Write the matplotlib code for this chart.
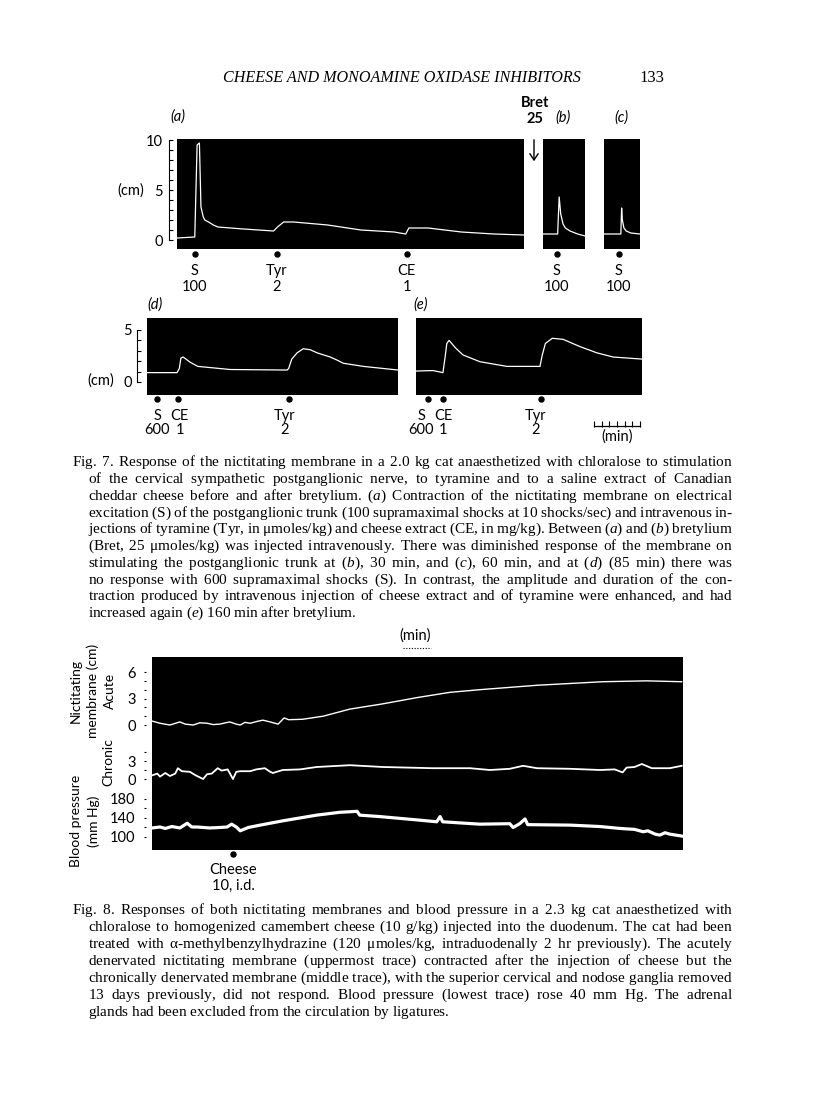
import matplotlib
matplotlib.use("Agg")
import matplotlib.pyplot as plt
from matplotlib.transforms import blended_transform_factory, ScaledTranslation
from matplotlib.lines import Line2D
from matplotlib.patches import FancyArrowPatch

# ---------------- data ----------------
# Fig. 7 (a) nictitating membrane contraction (cm) vs time (min)
a_t = [0.0, 2.3, 2.6, 2.9, 3.1, 3.4, 3.6, 4.3, 4.7, 5.3, 8.6, 12.5, 13.0, 13.8, 15.1,
       19.5, 23.8, 28.1, 29.6, 30.0, 32.5, 36.8, 41.0, 44.9]
a_v = [0.2, 0.3, 9.5, 9.7, 3.3, 2.3, 2.0, 1.7, 1.5, 1.3, 1.1, 0.9, 1.3, 1.8, 1.8,
       1.5, 1.0, 0.8, 0.6, 1.2, 1.2, 0.8, 0.6, 0.5]
a_ev_t = [2.3, 12.9, 29.7]
a_ev_lab = [("S", "100"), ("Tyr", "2"), ("CE", "1")]

b_t = [0.0, 1.9, 2.0, 2.1, 2.3, 2.6, 2.9, 3.5, 4.5, 5.45]
b_v = [0.6, 0.6, 2.5, 4.3, 2.6, 1.6, 1.2, 0.9, 0.6, 0.4]
b_ev_t = [1.8]
b_ev_lab = [("S", "100")]

c_t = [0.0, 2.2, 2.3, 2.4, 2.6, 2.9, 3.5, 4.7]
c_v = [0.6, 0.6, 3.2, 2.0, 1.2, 0.9, 0.7, 0.6]
c_ev_t = [1.95]
c_ev_lab = [("S", "100")]

d_t = [0.0, 3.9, 4.2, 4.4, 4.7, 5.6, 6.6, 10.8, 18.2, 18.4, 18.8, 19.5, 20.3, 21.2,
       22.1, 23.8, 24.7, 25.5, 28.1, 32.6]
d_v = [0.9, 0.9, 1.3, 2.3, 2.4, 1.9, 1.5, 1.2, 1.15, 1.3, 2.2, 2.8, 3.2, 3.1,
       2.8, 2.4, 2.1, 1.8, 1.5, 1.15]
d_ev_t = [1.3, 4.0, 18.4]
d_ev_lab = [("S", "600"), ("CE", "1"), ("Tyr", "2")]

e_t = [0.0, 2.2, 3.5, 3.8, 4.0, 4.3, 5.1, 6.1, 8.3, 11.8, 16.1, 16.4, 16.8, 17.7,
       19.1, 21.3, 23.5, 25.6, 29.35]
e_v = [1.05, 1.1, 0.9, 2.5, 3.7, 4.0, 3.3, 2.6, 1.95, 1.5, 1.5, 2.6, 3.7, 4.2,
       4.1, 3.4, 2.8, 2.4, 2.2]
e_ev_t = [1.56, 3.5, 16.2]
e_ev_lab = [("S", "600"), ("CE", "1"), ("Tyr", "2")]

# Fig. 8 traces vs time (min)
acute_t = [0.0, 1.2, 2.7, 4.2, 5.0, 6.2, 7.2, 8.3, 9.2, 10.2, 11.7, 12.7, 13.3, 14.0,
           14.8, 15.8, 16.7, 17.8, 19.0, 19.9, 20.6, 22.7, 25.8, 29.8, 34.8, 39.9,
           44.9, 49.4, 58.0, 67.9, 74.5, 79.8]
acute_v = [0.45, 0.2, 0.0, 0.35, 0.1, 0.0, 0.25, 0.2, 0.05, 0.1, 0.35, 0.1, 0.0, 0.3,
           0.2, 0.4, 0.55, 0.35, 0.1, 0.8, 0.6, 0.65, 1.0, 1.8, 2.4, 3.1,
           3.7, 4.0, 4.5, 4.9, 5.0, 4.9]
chronic_t = [0.0, 0.8, 1.2, 2.0, 2.7, 3.5, 3.9, 4.5, 5.7, 6.6, 7.7, 8.3, 9.0, 9.9, 10.5,
             11.4, 12.2, 12.7, 13.3, 14.8, 15.7, 17.0, 17.8, 18.2, 19.7, 22.3, 24.8,
             29.8, 34.8, 42.3, 47.9, 50.9, 53.9, 55.9, 58.0, 63.0, 67.5, 69.7, 70.9,
             71.5, 72.7, 73.8, 75.3, 78.0, 79.8]
chronic_v = [0.6, 0.9, 0.4, 1.0, 0.5, 0.9, 1.8, 1.3, 1.2, 0.6, 0.0, 0.8, 0.9, 1.8, 1.4,
             1.6, 0.0, 1.2, 1.3, 1.3, 1.6, 1.8, 1.2, 1.0, 1.5, 1.6, 2.0,
             2.3, 2.0, 1.8, 1.8, 1.5, 1.7, 2.2, 1.8, 1.7, 1.5, 1.6, 1.1,
             1.9, 2.0, 2.5, 1.8, 1.8, 2.2]
bp_t = [0.0, 1.2, 2.0, 3.0, 4.2, 5.3, 6.0, 6.8, 8.7, 10.2, 11.3, 12.0, 12.7, 13.3, 14.5,
        16.3, 19.7, 24.8, 28.3, 30.9, 31.3, 34.3, 39.9, 42.9, 43.4, 43.8, 49.4, 53.9,
        54.4, 55.4, 56.2, 56.6, 63.0, 67.5, 70.5, 72.7, 74.0, 74.7, 75.8, 76.5, 77.3,
        78.0, 79.8]
bp_v = [119, 121, 118, 122, 119, 129, 121, 121, 119, 120, 121, 127, 121, 113, 120,
        125, 134, 146, 152, 154, 146, 143, 136, 132, 143, 132, 127, 128,
        120, 128, 138, 126, 125, 122, 118, 116, 111, 113, 106, 104, 109,
        106, 102]
cheese_t = 12.2

title = "CHEESE AND MONOAMINE OXIDASE INHIBITORS"
page_no = "133"

cap7 = [
    "Fig. 7. Response of the nictitating membrane in a 2.0 kg cat anaesthetized with chloralose to stimulation",
    "of the cervical sympathetic postganglionic nerve, to tyramine and to a saline extract of Canadian",
    "cheddar cheese before and after bretylium. (_a_) Contraction of the nictitating membrane on electrical",
    "excitation (S) of the postganglionic trunk (100 supramaximal shocks at 10 shocks/sec) and intravenous in-",
    "jections of tyramine (Tyr, in \u03bcmoles/kg) and cheese extract (CE, in mg/kg). Between (_a_) and (_b_) bretylium",
    "(Bret, 25 \u03bcmoles/kg) was injected intravenously. There was diminished response of the membrane on",
    "stimulating the postganglionic trunk at (_b_), 30 min, and (_c_), 60 min, and at (_d_) (85 min) there was",
    "no response with 600 supramaximal shocks (S). In contrast, the amplitude and duration of the con-",
    "traction produced by intravenous injection of cheese extract and of tyramine were enhanced, and had",
    "increased again (_e_) 160 min after bretylium.",
]
cap8 = [
    "Fig. 8. Responses of both nictitating membranes and blood pressure in a 2.3 kg cat anaesthetized with",
    "chloralose to homogenized camembert cheese (10 g/kg) injected into the duodenum. The cat had been",
    "treated with \u03b1-methylbenzylhydrazine (120 \u03bcmoles/kg, intraduodenally 2 hr previously). The acutely",
    "denervated nictitating membrane (uppermost trace) contracted after the injection of cheese but the",
    "chronically denervated membrane (middle trace), with the superior cervical and nodose ganglia removed",
    "13 days previously, did not respond. Blood pressure (lowest trace) rose 40 mm Hg. The adrenal",
    "glands had been excluded from the circulation by ligatures.",
]

# ---------------- layout helpers ----------------
plt.rcParams["mathtext.fontset"] = "custom"
plt.rcParams["mathtext.rm"] = "Liberation Serif"
plt.rcParams["mathtext.it"] = "Liberation Serif:italic"
plt.rcParams["mathtext.bf"] = "Liberation Serif:bold"

W, H = 816, 1117
fig = plt.figure(figsize=(W / 100, H / 100), dpi=100)
fig.patch.set_facecolor("white")
SANS = ["Lato", "DejaVu Sans"]
SERIF = ["Liberation Serif", "DejaVu Serif"]
PT = 72 / 100.0  # points per pixel
LAB = 10.5


def fx(x):
    return x / W


def fy(y):
    return 1 - y / H


def panel(x0, y0, x1, y1, xlim, ylim, face="black"):
    ax = fig.add_axes([fx(x0), fy(y1), (x1 - x0) / W, (y1 - y0) / H])
    ax.set_facecolor(face)
    for s in ax.spines.values():
        s.set_visible(False)
    ax.set_xticks([])
    ax.set_yticks([])
    ax.set_xlim(*xlim)
    ax.set_ylim(*ylim)
    return ax


def below(ax, dy_px, dx_px=0):
    return blended_transform_factory(ax.transData, ax.transAxes) + \
        ScaledTranslation(dx_px / 100.0, -dy_px / 100.0, fig.dpi_scale_trans)


def events(ax, ts, labs, dot_dy, lab_dy, ls, dxs=None, size=LAB):
    dxs = dxs or [0] * len(ts)
    for t, (l1, l2), dx in zip(ts, labs, dxs):
        ax.plot([t], [0], "o", color="black", ms=3.6, clip_on=False,
                transform=below(ax, dot_dy))
        ax.text(t, 0, l1 + "\n" + l2, transform=below(ax, lab_dy, dx), ha="center",
                va="center", multialignment="center", linespacing=ls,
                fontsize=size, family=SANS)


def yaxis(ax, ticks, labels, outward_px, length_px, pad_px, spine=True, bounds=None):
    sp = ax.spines["left"]
    sp.set_visible(True)
    sp.set_position(("outward", outward_px * PT))
    sp.set_color("black" if spine else "none")
    sp.set_linewidth(0.8)
    if bounds:
        sp.set_bounds(*bounds)
    ax.set_yticks(ticks)
    ax.set_yticklabels(labels, family=SANS, fontsize=LAB)
    ax.tick_params(axis="y", direction="in" if spine else "out",
                   length=length_px * PT, width=0.8, pad=pad_px * PT, colors="black")


# ---------------- header ----------------
fig.text(fx(402), fy(82), title, family=SERIF, style="italic", fontsize=11.6,
         ha="center", va="baseline")
fig.text(fx(652), fy(82), page_no, family=SERIF, fontsize=12, ha="center", va="baseline")

# ---------------- Fig. 7 a, b, c ----------------
ylim_abc = (-0.9, 10.1)
ax_a = panel(177, 139, 524, 249, (0, 44.9), ylim_abc)
ax_a.plot(a_t, a_v, color="white", lw=0.9)
yaxis(ax_a, list(range(0, 11)), ["0", "", "", "", "", "5", "", "", "", "", "10"],
      outward_px=8, length_px=4, pad_px=6, bounds=(0, 10))
events(ax_a, a_ev_t, a_ev_lab, 5, 30, 1.1)

ax_b = panel(543, 139, 585, 249, (0, 5.45), ylim_abc)
ax_b.plot(b_t, b_v, color="white", lw=0.9)
events(ax_b, b_ev_t, b_ev_lab, 5, 30, 1.1)

ax_c = panel(604, 139, 640, 249, (0, 4.7), ylim_abc)
ax_c.plot(c_t, c_v, color="white", lw=0.9)
events(ax_c, c_ev_t, c_ev_lab, 5, 30, 1.1)

for x, y, s in [(178, 117, "(a)"), (563, 118, "(b)"), (621, 118, "(c)"),
                (155, 305, "(d)"), (421, 305, "(e)")]:
    fig.text(fx(x), fy(y), s, family=SANS, style="italic", fontsize=LAB,
             ha="center", va="center")
fig.text(fx(535), fy(111), "Bret\n25", family=SANS, weight="bold", fontsize=LAB,
         ha="center", va="center", multialignment="center", linespacing=1.2)
fig.text(fx(131), fy(191), "(cm)", family=SANS, fontsize=LAB, ha="center", va="center")
fig.add_artist(FancyArrowPatch(
    (fx(534), fy(137)), (fx(534), fy(164)), transform=fig.transFigure,
    arrowstyle="->,head_length=3,head_width=2", color="black", lw=1.0,
    mutation_scale=1.5))

# ---------------- Fig. 7 d, e ----------------
ylim_de = (-1.25, 6.15)
ax_d = panel(147, 318, 398, 395, (0, 32.6), ylim_de)
ax_d.plot(d_t, d_v, color="white", lw=0.9)
yaxis(ax_d, list(range(0, 6)), ["0", "", "", "", "", "5"],
      outward_px=10, length_px=4, pad_px=5, bounds=(0, 5))
events(ax_d, d_ev_t, d_ev_lab, 4, 28, 1.0, dxs=[0, 2, -4])

ax_e = panel(416, 318, 642, 395, (0, 29.35), ylim_de)
ax_e.plot(e_t, e_v, color="white", lw=0.9)
events(ax_e, e_ev_t, e_ev_lab, 4, 28, 1.0, dxs=[-7, 0, -5])

fig.text(fx(101), fy(381), "(cm)", family=SANS, fontsize=LAB, ha="center", va="center")

# time scale bar (1 min divisions) under panel e
sb0, sb1 = 23.1, 29.1
ax_e.plot([sb0, sb1], [0, 0], color="black", lw=0.9, clip_on=False, transform=below(ax_e, 31))
for k in range(7):
    ax_e.plot([sb0 + k], [0], marker="|", ms=4, mew=0.8, color="black",
              clip_on=False, transform=below(ax_e, 29))
ax_e.text((sb0 + sb1) / 2, 0, "(min)", transform=below(ax_e, 42), ha="center", va="center",
          fontsize=LAB, family=SANS)


# ---------------- justified captions ----------------
def caption(lines, x_first, x_ind, x_right, y0, dy, size):
    r = fig.canvas.get_renderer()

    def build(words, g):
        parts = []
        for w in words:
            s = ""
            for j, p in enumerate(w.split("_")):
                if p:
                    s += (r"$\mathit{%s}$" % p) if j % 2 else p
            parts.append(s)
        return (r"$\hspace{%.4f}$" % g).join(parts)

    for i, line in enumerate(lines):
        words = line.split(" ")
        x0 = x_first if i == 0 else x_ind
        yb = fy(y0 + dy * i)
        last = i == len(lines) - 1
        t = fig.text(fx(x0), yb, build(words, 0.3), fontsize=size, family=SERIF,
                     va="baseline", ha="left")
        if last:
            t.set_text(build(words, 0.34))
            continue
        w0 = t.get_window_extent(r).width
        t.set_text(build(words, 0.8))
        w1 = t.get_window_extent(r).width
        per = (w1 - w0) / 0.5
        g = 0.3 + (x_right - x0 - w0) / per
        t.set_text(build(words, g))


caption(cap7, 72, 88, 733, 466, 16.8, 11.0)

# ---------------- Fig. 8 ----------------
X8 = (0, 80)
f8 = (152, 657, 683, 850)
ax8 = panel(*f8, X8, (-14.15, 7.7))
ax8.plot(acute_t, acute_v, color="white", lw=1.0)
yaxis(ax8, list(range(0, 7)), ["0", "", "", "3", "", "", "6"],
      outward_px=6, length_px=2.5, pad_px=8, spine=False)

ax8c = panel(*f8, X8, (-11.83, 20.33), face="none")
ax8c.plot(chronic_t, chronic_v, color="white", lw=1.3)
yaxis(ax8c, [0, 1.5, 3, 4.5], ["0", "", "3", ""],
      outward_px=6, length_px=2.5, pad_px=8, spine=False)

ax8b = panel(*f8, X8, (72.6, 479), face="none")
ax8b.plot(bp_t, bp_v, color="white", lw=2.3, solid_joinstyle="round")
yaxis(ax8b, [100, 120, 140, 160, 180], ["100", "", "140", "", "180"],
      outward_px=6, length_px=2.5, pad_px=8, spine=False)

ax8.plot([cheese_t], [0], "o", color="black", ms=3.6, clip_on=False, transform=below(ax8, 4))
ax8.text(cheese_t, 0, "Cheese\n10, i.d.", transform=below(ax8, 28), ha="center", va="center",
         multialignment="center", linespacing=1.1, fontsize=LAB, family=SANS)

fig.text(fx(415), fy(636), "(min)", family=SANS, fontsize=LAB, ha="center", va="center")
fig.add_artist(Line2D([fx(403), fx(431)], [fy(648), fy(648)], transform=fig.transFigure,
                      color="black", lw=0.8, ls=(0, (1, 1.5))))

for x, yc, s in [(93, 691, "Nictitating\nmembrane (cm)\nAcute"),
                 (108, 762, "Chronic"),
                 (85, 821, "Blood pressure\n(mm Hg)")]:
    fig.text(fx(x), fy(yc), s, rotation=90, family=SANS, fontsize=10,
             ha="center", va="center", multialignment="center", linespacing=1.5)

caption(cap8, 72, 88, 733, 914, 17.0, 11.0)

fig.savefig("out.png", dpi=100, facecolor="white")
